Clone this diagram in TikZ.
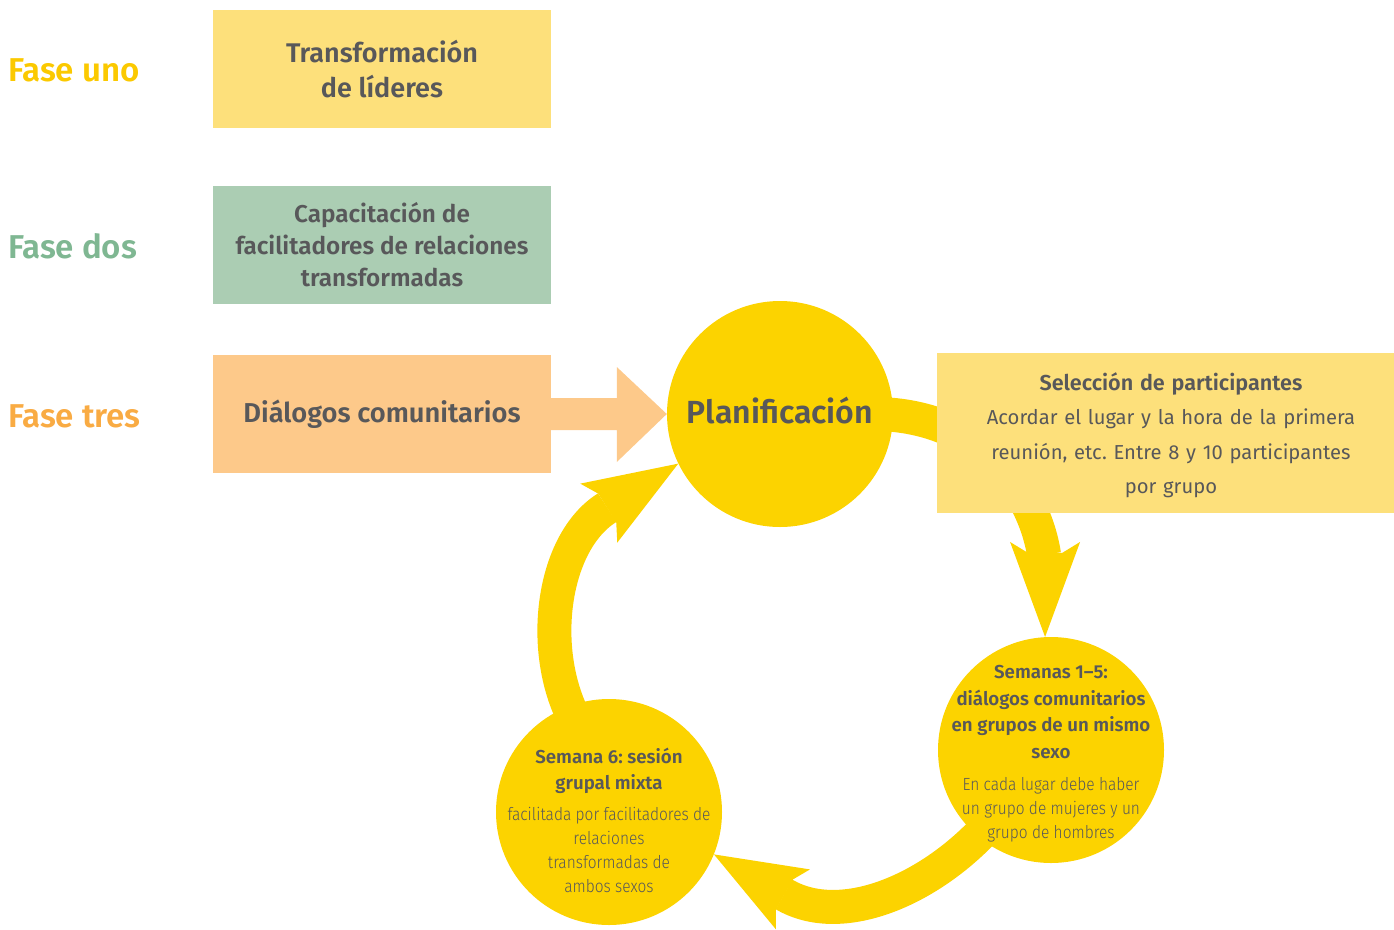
\documentclass[tikz,border=0pt]{standalone}
\usepackage{fontspec}
\setmainfont{Fira Sans}[BoldFont={Fira Sans SemiBold}]
\newfontfamily\lightfont{Fira Sans Light}[FakeStretch=0.88]
\usetikzlibrary{calc,backgrounds}
\frenchspacing
\definecolor{circY}{HTML}{FCD300}
\definecolor{boxY}{HTML}{FDE07B}
\definecolor{boxG}{HTML}{ABCDB3}
\definecolor{boxO}{HTML}{FDC98A}
\definecolor{txt}{HTML}{58585A}
\definecolor{fUno}{HTML}{FBC900}
\definecolor{fDos}{HTML}{7FB792}
\definecolor{fTres}{HTML}{F9AB43}
\tikzset{
  phaselabel/.style={anchor=west, inner sep=0pt, font=\bfseries\fontsize{33}{38}\selectfont},
  phasebox/.style={rectangle, inner sep=0pt, minimum width=338pt, minimum height=118pt, text=txt, align=center, font=\bfseries\fontsize{27}{35}\selectfont},
  stepcircle/.style={circle, fill=circY, inner sep=0pt, minimum size=226pt},
  circtitle/.style={inner sep=0pt, text=txt, align=center, font=\bfseries\fontsize{18.7}{26.6}\selectfont},
  circbody/.style={inner sep=0pt, text=txt, align=center, font=\lightfont\fontsize{17.6}{24}\selectfont},
  band/.style={draw=circY, line width=34pt},
  headfill/.style={fill=circY},
}
\begin{document}
\begin{tikzpicture}[x=1pt,y=-1pt]
\useasboundingbox (0,0) rectangle (1394,929);
% phase labels
\node[phaselabel, text=fUno] (f1) at (8,70) {Fase uno};
\node[phaselabel, text=fDos] (f2) at (8,246) {Fase dos};
\node[phaselabel, text=fTres] (f3) at (8,416) {Fase tres};
% phase boxes
\node[phasebox, fill=boxY] (b1) at (382,69) {Transformación\\de líderes};
\node[phasebox, fill=boxG, font=\bfseries\fontsize{24.3}{32}\selectfont] (b2) at (382,245) {Capacitación de\\facilitadores de relaciones\\transformadas};
\node[phasebox, fill=boxO, font=\bfseries\fontsize{27.3}{35}\selectfont] (b3) at (382,414) {Diálogos comunitarios};
% circles
\node[stepcircle] (plan) at (780,414) {};
\node[inner sep=0pt, text=txt, font=\bfseries\fontsize{32}{36}\selectfont] (plant) at (780,411) {Planificación};
\node[stepcircle] (s15) at (1051,750) {};
\node[circtitle] (s15t) at (1051,712) {Semanas 1–5:\\diálogos comunitarios\\en grupos de un mismo\\sexo};
\node[circbody] (s15b) at (1051,810) {En cada lugar debe haber\\un grupo de mujeres y un\\grupo de hombres};
\node[stepcircle] (s6) at (609,812) {};
\node[circtitle] (s6t) at (609,771) {Semana 6: sesión\\grupal mixta};
\node[circbody] (s6b) at (609,850) {facilitada por facilitadores de\\relaciones\\transformadas de\\ambos sexos};
% selection box
\node[rectangle, fill=boxY, inner sep=0pt, minimum width=457pt, minimum height=160pt] (sel) at (1165.5,433) {};
\node[inner sep=0pt, text=txt, align=center, text width=440pt, font=\fontsize{20.2}{34.5}\selectfont] (selt) at (1171,435) {{\bfseries\fontsize{21.6}{34.5}\selectfont Selección de participantes}\\Acordar el lugar y la hora de la primera\\reunión, etc. Entre 8 y 10 participantes\\por grupo};
% arrow tips
\coordinate (t1) at (s15.93.5);
\coordinate (t2) at (s6.-22.7);
\coordinate (t3) at (plan.206);
\begin{pgfonlayer}{background}
% orange arrow
\fill[boxO] ($(b3.east)+(0,-16)$) -- ($(plan.west)+(-50,-16)$) -- ($(plan.west)+(-50,-47)$) -- (plan.west) -- ($(plan.west)+(-50,48)$) -- ($(plan.west)+(-50,16)$) -- ($(b3.east)+(0,16)$) -- cycle;
% arrow 1: plan -> s15
\draw[band] ($(plan.center)+(100,0)$) .. controls (990,418) and (1036,500) .. ($(t1)+(-1,-82)$);
\fill[headfill] (t1) -- ($(t1)+(35,-95)$) -- ($(t1)+(17,-84)$) -- ($(t1)+(-17,-84)$) -- ($(t1)+(-35,-95)$) -- cycle;
% arrow 2: s15 -> s6
\draw[band] ($(s15.center)+(-46,55)$) .. controls (950,880) and (848,932) .. ($(t2)+(70,40)$);
\fill[headfill] (t2) -- ($(t2)+(96,15)$) -- ($(t2)+(79,25)$) -- ($(t2)+(62,55)$) -- ($(t2)+(62,75)$) -- cycle;
% arrow 3: s6 -> plan
\draw[band] ($(s6.center)+(-34,-92)$) .. controls (538,650) and (552,542) .. ($(t3)+(-71,44)$);
\fill[headfill] (t3) -- ($(t3)+(-98,20)$) -- ($(t3)+(-80,30)$) -- ($(t3)+(-62,59)$) -- ($(t3)+(-61,79)$) -- cycle;
\end{pgfonlayer}
\end{tikzpicture}
\end{document}
